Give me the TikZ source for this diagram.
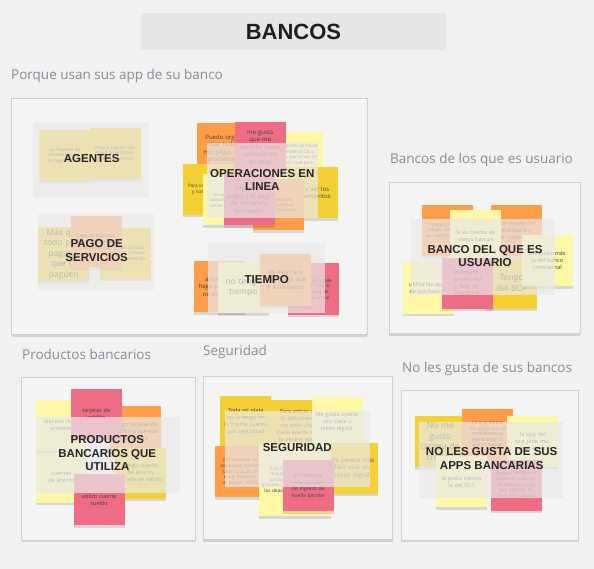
\documentclass[tikz,border=0pt]{standalone}
\usepackage{fontspec}
\setmainfont{Open Sans}
\newfontfamily\hdfont{Liberation Sans}
\usetikzlibrary{shadows}

\definecolor{boardbg}{HTML}{F1F1F1}
\definecolor{framebg}{HTML}{F4F4F4}
\definecolor{frameline}{HTML}{D0D0D0}
\definecolor{titlebg}{HTML}{E6E6E6}
\definecolor{sectxt}{HTML}{8C8A9A}
\definecolor{notepale}{HTML}{FFF6A6}
\definecolor{noteyellow}{HTML}{F5D034}
\definecolor{noteorange}{HTML}{FF9D48}
\definecolor{notered}{HTML}{EE6D84}
\definecolor{veilgray}{HTML}{E9E9E9}

\tikzset{
  note/.style={minimum width=51pt, minimum height=51pt, inner sep=1.5pt, text width=45pt, align=center,
    font=\fontsize{4.6}{5.6}\selectfont, text=black!75,
    drop shadow={shadow xshift=0pt, shadow yshift=-2.5pt, opacity=0.12, fill=black}},
  palenote/.style={note, fill=notepale},
  yellownote/.style={note, fill=noteyellow},
  orangenote/.style={note, fill=noteorange},
  rednote/.style={note, fill=notered},
  bigtext/.style={font=\fontsize{8.5}{10.5}\selectfont},
  veil/.style={fill=veilgray, fill opacity=0.7},
  board/.style={fill=framebg, draw=frameline, line width=0.8pt,
    drop shadow={shadow xshift=0pt, shadow yshift=-2pt, opacity=0.12, fill=black}},
  section/.style={anchor=west, inner sep=0pt, text=sectxt, font=\fontsize{13.5}{16}\selectfont},
  grouplabel/.style={align=center, inner sep=0pt, text=black!85, font=\hdfont\bfseries\fontsize{11.5}{13.5}\selectfont},
}

\begin{document}
\begin{tikzpicture}[x=1pt, y=-1pt]
  \useasboundingbox[fill=boardbg] (0,0) rectangle (594,569);

  % title
  \fill[titlebg] (141,13) rectangle (446,50);
  \node[font=\hdfont\bfseries\fontsize{22}{24}\selectfont, text=black!88] (title) at (293.5,31.5) {BANCOS};

  % section headings
  \node[section] (sec_uso) at (11,76) {Porque usan sus app de su banco};
  \node[section] (sec_usuario) at (390,160) {Bancos de los que es usuario};
  \node[section] (sec_productos) at (22,354) {Productos bancarios};
  \node[section] (sec_seguridad) at (203,352) {Seguridad};
  \node[section] (sec_nogusta) at (402,369) {No les gusta de sus bancos};

  % frames
  \path[board] (11.5,98) rectangle (367,334.5);
  \path[board] (389.3,182.3) rectangle (580,333.5);
  \path[board] (21.5,377) rectangle (195,540);
  \path[board] (203,376) rectangle (392.5,539.5);
  \path[board] (401.5,390) rectangle (578.5,540);

  % Porque usan: agentes
  \node[yellownote] (ag1) at (64.7,155.5) {La mayoría de establecimientos/agentes usa};
  \node[yellownote] (ag2) at (115.2,153.7) {Porque hay en cantidad de establecimientos/agentes.};
  \fill[veil] (32.7,122.3) rectangle (149.3,198.3);
  \node[grouplabel] (agentes) at (91.7,159) {AGENTES};

  % Porque usan: pago de servicios
  \node[yellownote, bigtext] (pg1) at (63.7,253.8) {Más que todo para pagar y que te paguen};
  \node[yellownote] (pg2) at (125.2,253.3) {La mayor utilidad para pagar tributos, entidades, servicios.};
  \node[orangenote] (pg3) at (96.3,241.7) {pago de servicios, pago de tarjetas, transferencias};
  \fill[veil] (37.7,214) rectangle (154.3,290);
  \node[grouplabel] (pago) at (96.7,250.7) {PAGO DE\\SERVICIOS};

  % Porque usan: operaciones en linea
  \node[orangenote, font=\fontsize{6}{7.5}\selectfont] (op1) at (222.7,149) {Puedo organizar todos mis pagos sin problemas};
  \node[palenote] (op2) at (297.5,157.2) {La opción de hacer transferencia a otras personas sin tener que ponerme en contacto};
  \node[rednote, font=\fontsize{6}{7.5}\selectfont] (op3) at (260.3,147.3) {me gusta que me permita hacer operaciones en linea};
  \node[yellownote] (op4) at (208.8,189.2) {Para ver mis pagos y transacciones};
  \node[yellownote, font=\fontsize{6}{7.5}\selectfont] (op5) at (312.5,193) {Para ver los movimientos};
  \node[palenote] (op6) at (228.8,200) {el cual me da opciones de consultar mis saldos};
  \node[orangenote, font=\fontsize{4}{5}\selectfont] (op7) at (278.3,205) {me parece más rápido y cómodo que ir a los bancos};
  \node[rednote, font=\fontsize{6}{7.5}\selectfont] (op8) at (249.2,200) {todos mis pagos y el pago de mi tarjeta de crédito.};
  \fill[veil] (206.7,143.3) rectangle (318.3,218.3);
  \node[grouplabel] (operaciones) at (262.3,180) {OPERACIONES EN\\LINEA};

  % Porque usan: tiempo
  \node[orangenote, font=\fontsize{6}{7.5}\selectfont] (tm1) at (219.5,286.7) {actualizar, hago pagos de mi día a día};
  \node[rednote] (tm2) at (313.3,289) {el pago se puede ser por horario y se puede de manera virtual};
  \node[palenote, bigtext] (tm3) at (243.3,287.5) {no tengo tiempo};
  \node[orangenote, font=\fontsize{6}{7.5}\selectfont] (tm4) at (285.5,280) {es muy raro que tenga que ir a un banco};
  \fill[veil] (208.3,243.3) rectangle (325,313.3);
  \node[grouplabel] (tiempo) at (266.7,279.3) {TIEMPO};

  % Bancos de los que es usuario
  \node[orangenote] (bu1) at (447,230.5) {Interbank por el trabajo, continental por tarjeta de valor};
  \node[orangenote, font=\fontsize{5.5}{7}\selectfont] (bu2) at (516.3,230.5) {Soy cliente del Interbank y del continental};
  \node[palenote, font=\fontsize{5.5}{7}\selectfont] (bu3) at (475.8,235.5) {Si es cliente de varios bancos};
  \node[palenote, font=\fontsize{5.5}{7}\selectfont] (bu5) at (428.3,288) {utiliza las apps de sus bancos};
  \node[yellownote, bigtext] (bu7) at (511.7,283.2) {Tengo del BCP};
  \node[rednote, font=\fontsize{5.5}{7}\selectfont] (bu6) at (467,283.2) {Interbank, continental y bcp, de interbank};
  \node[palenote, font=\fontsize{5.5}{7}\selectfont] (bu4) at (547.3,260.8) {Me gusta más la del banco continental};
  \fill[veil] (411,219) rectangle (555,295);
  \node[grouplabel] (usuario) at (485,256) {BANCO DEL QUE ES\\USUARIO};

  % Productos bancarios
  \node[palenote, font=\fontsize{5.5}{7}\selectfont] (pr2) at (61.2,477) {cuentas de ahorro};
  \node[palenote, font=\fontsize{5.5}{7}\selectfont] (pr1) at (61.2,425) {efectivo mayormente};
  \node[orangenote, font=\fontsize{5.5}{7}\selectfont] (pr4) at (135.5,431.3) {tengo tarjetas de crédito y cuentas de ahorro};
  \node[yellownote, font=\fontsize{5.5}{7}\selectfont] (pr5) at (140.8,473.3) {tengo cuenta de ahorro, tarjeta de débito};
  \node[rednote, font=\fontsize{5.5}{7}\selectfont] (pr3) at (96.3,414.2) {tarjetas de crédito};
  \node[rednote, font=\fontsize{5.5}{7}\selectfont] (pr6) at (99.2,499.5) {utilizo cuenta sueldo};
  \fill[veil] (35.7,417.3) rectangle (180,492.7);
  \node[grouplabel] (productos) at (107.3,453.3) {PRODUCTOS\\BANCARIOS QUE\\UTILIZA};

  % Seguridad
  \node[yellownote, font=\fontsize{5.5}{7}\selectfont] (sg1) at (245.8,421.3) {Toda mi plata no la tengo en la misma cuenta por seguridad};
  \node[yellownote, font=\fontsize{5.5}{7}\selectfont] (sg2) at (296.7,425.8) {Para entrar a la aplicación me pide una clave aparte de la misma app};
  \node[palenote, font=\fontsize{5.5}{7}\selectfont] (sg3) at (337.2,422.3) {Me gusta operar con clave o token digital.};
  \node[yellownote, font=\fontsize{6}{7.5}\selectfont] (sg4) at (352.2,468.3) {Me parece más fácil usar un token digital};
  \node[orangenote] (sg5) at (240.2,471.7) {por un tema de seguridad quisiera saber a quién le estoy haciendo el abono, fecha};
  \node[palenote, minimum width=72pt, minimum height=72pt, text width=66pt] (sg6) at (294.5,480) {Esta financiera tiene el respaldo de un banco, también de los bancos grandes si hay problemas con los depositos que he hecho};
  \node[rednote, font=\fontsize{5}{6.5}\selectfont] (sg7) at (308.3,485.7) {el interbank tiene opciones de ingreso de huella dactilar};
  \fill[veil] (224.7,410.7) rectangle (369.7,486.7);
  \node[grouplabel] (seguridad) at (297.3,447.3) {SEGURIDAD};

  % No les gusta de sus bancos
  \node[yellownote, bigtext] (ng1) at (440.3,441.7) {No me gusto tarjeta de crédito};
  \node[orangenote] (ng2) at (487.8,434.7) {Lo que menos me gusta son las transferencias interbancarias que te cobran};
  \node[palenote, font=\fontsize{5.5}{7}\selectfont] (ng3) at (532.8,441.3) {la app del bcp pide muchos datos};
  \node[palenote, font=\fontsize{5.5}{7}\selectfont] (ng4) at (461.5,481.7) {le gusta menos la del BCP};
  \node[rednote] (ng5) at (516.2,485) {porque siempre al querer el continental siempre tengo que ingresar mi clave y mi usuario};
  \fill[veil] (419,421.7) rectangle (563.3,498.3);
  \node[grouplabel] (nogusta) at (491.7,458.3) {NO LES GUSTA DE SUS\\APPS BANCARIAS};
\end{tikzpicture}
\end{document}
